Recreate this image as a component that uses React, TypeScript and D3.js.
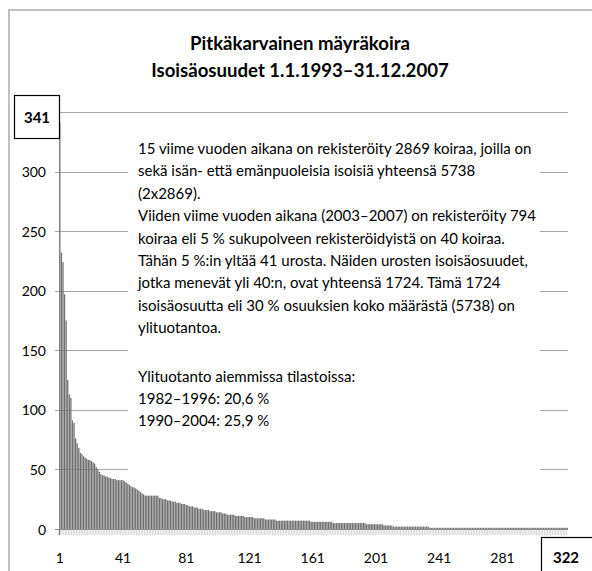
import React from 'react';
import * as d3 from 'd3';

// grandsire shares per male, sorted descending (1..322)
const values: number[] = [
  341, 232, 224, 197, 175, 125, 113, 110, 91, 89,
  76, 72, 68, 64, 63, 61, 60, 59, 58, 58,
  57, 56, 55, 52, 50, 48, 46, 45, 45, 44,
  44, 43, 43, 42, 42, 42, 41, 41, 41, 41,
  41,
  40, 39, 38, 37, 36, 35,
  35, 34, 33, 32, 31, 30, 29,
  28, 28, 28, 28, 28, 28, 28, 28, 28,
  26, 26, 25, 25, 25, 24, 24, 24, 23,
  23, 23, 22, 22, 22, 21, 21, 21,
  20, 20, 19, 19, 19, 18, 18, 18,
  17, 17, 17, 16, 16, 16, 16,
  15, 15, 15, 15, 14, 14, 14,
  14, 13, 13, 13, 12, 12, 12,
  12, 12, 11, 11, 11, 11, 11,
  11, 10, 10, 10, 10,
  10, 10, 9, 9, 9, 9, 9,
  9, 9, 8, 8, 8, 8,
  8, 8, 8, 7, 7, 7, 7,
  7, 7, 7, 7, 7, 7, 7, 7, 7,
  7, 7, 7, 7, 7, 7, 7, 7, 7,
  6, 6, 6, 6, 6, 6, 6, 6, 6, 6, 6, 6, 6, 6,
  5, 5, 5, 5, 5, 5, 5, 5, 5, 5,
  5, 5, 5, 5, 5, 5, 5, 5, 5, 5, 5,
  4, 4, 4, 4, 4, 4, 4, 4, 4, 4, 4,
  3, 3, 3, 3, 3, 3,
  2, 2, 2, 2, 2, 2, 2, 2, 2, 2,
  2, 2, 2, 2, 2, 2, 2, 2, 2, 2,
  2, 2, 2,
  1, 1, 1, 1, 1, 1, 1, 1, 1, 1, 1,
  1, 1, 1, 1, 1, 1, 1, 1, 1, 1, 1,
  1, 1, 1, 1, 1, 1, 1, 1, 1, 1, 1,
  1, 1, 1, 1, 1, 1, 1, 1, 1, 1, 1,
  1, 1, 1, 1, 1, 1, 1, 1, 1, 1, 1,
  1, 1, 1, 1, 1, 1, 1, 1, 1, 1, 1,
  1, 1, 1, 1, 1, 1, 1, 1, 1, 1, 1,
  1, 1, 1, 1, 1, 1, 1, 1, 1, 1, 1,
];

const categories = values.map((_, i) => String(i + 1));
const xTickLabels = ['1', '41', '81', '121', '161', '201', '241', '281'];
const lastLabel = '322';
const yTicks = [0, 50, 100, 150, 200, 250, 300];
const topLabel = '341';

const titleLines = ['Pitkäkarvainen mäyräkoira', 'Isoisäosuudet 1.1.1993–31.12.2007'];
const noteLines = [
  '15 viime vuoden aikana on rekisteröity 2869 koiraa, joilla on',
  'sekä isän- että emänpuoleisia isoisiä yhteensä 5738',
  '(2x2869).',
  'Viiden viime vuoden aikana (2003–2007) on rekisteröity 794',
  'koiraa eli 5 % sukupolveen rekisteröidyistä on 40 koiraa.',
  'Tähän 5 %:in yltää 41 urosta. Näiden urosten isoisäosuudet,',
  'jotka menevät yli 40:n, ovat yhteensä 1724. Tämä 1724',
  'isoisäosuutta eli 30 % osuuksien koko määrästä (5738) on',
  'ylituotantoa.',
];
const historyLines = [
  'Ylituotanto aiemmissa tilastoissa:',
  '1982–1996: 20,6 %',
  '1990–2004: 25,9 %',
];

const W = 592;
const H = 571;
const font = 'Lato, sans-serif';

export default function App() {
  const x = d3.scaleBand<string>().domain(categories).range([59.2, 568]).paddingInner(0.2);
  const y = d3.scaleLinear().domain([0, 350]).range([529, 112]);
  const grid = [...yTicks.slice(1), 350];

  return (
    <div style={{ position: 'absolute', left: 0, top: 0 }}>
      <svg width={W} height={H} style={{ display: 'block', background: '#fff' }}>
        <rect x={9} y={10} width={700} height={700} fill="#fff" stroke="#c0c0c0" strokeWidth={2} />

        {titleLines.map((t, i) => (
          <text key={t} x={300} y={50 + i * 27} textAnchor="middle" fontFamily={font}
            fontWeight="bold" fontSize={18.6} fill="#000">{t}</text>
        ))}

        {/* gridlines */}
        {grid.map(v => (
          <line key={v} x1={55} x2={568} y1={Math.round(y(v)) + 0.5} y2={Math.round(y(v)) + 0.5}
            stroke="#a6a6a6" strokeWidth={1} />
        ))}

        {/* category ticks below axis */}
        {categories.map(c => (
          <line key={c} x1={x(c)! - 0.2} x2={x(c)! - 0.2} y1={529} y2={535} stroke="#cfcfcf" strokeWidth={0.8} />
        ))}

        {/* bars */}
        {values.map((v, i) => (
          <rect key={i} x={x(categories[i])} y={y(v)} width={x.bandwidth()} height={y(0) - y(v)}
            fill="#6f6f6f" />
        ))}

        {/* axes */}
        <line x1={55} x2={568} y1={529.5} y2={529.5} stroke="#8c8c8c" strokeWidth={1} />
        <line x1={59.5} x2={59.5} y1={112} y2={535} stroke="#808080" strokeWidth={1} />

        {yTicks.map(v => (
          <text key={v} x={46} y={y(v)} textAnchor="end" dominantBaseline="central"
            fontFamily={font} fontSize={14} fill="#000">{v}</text>
        ))}
        {xTickLabels.map(l => (
          <text key={l} x={x(l)! + x.bandwidth() / 2} y={557} textAnchor="middle" dominantBaseline="central"
            fontFamily={font} fontSize={14} fill="#000">{l}</text>
        ))}

        {/* note box */}
        <rect x={128} y={124} width={412} height={357} fill="#fff" />
        {noteLines.map((t, i) => (
          <text key={i} x={138} y={154 + i * 22.4} fontFamily={font} fontSize={15} fill="#000">{t}</text>
        ))}
        {historyLines.map((t, i) => (
          <text key={t} x={138} y={382 + i * 22.2} fontFamily={font} fontSize={15} fill="#000">{t}</text>
        ))}

        {/* highlighted extremes */}
        <rect x={14.5} y={95.5} width={45} height={43} fill="#fff" stroke="#000" strokeWidth={1.2} />
        <text x={37} y={117} textAnchor="middle" dominantBaseline="central" fontFamily={font}
          fontWeight="bold" fontSize={15}>{topLabel}</text>
        <rect x={541.5} y={537.5} width={70} height={50} fill="#fff" stroke="#000" strokeWidth={1.2} />
        <text x={566} y={557} textAnchor="middle" dominantBaseline="central" fontFamily={font}
          fontWeight="bold" fontSize={15}>{lastLabel}</text>
      </svg>
    </div>
  );
}
